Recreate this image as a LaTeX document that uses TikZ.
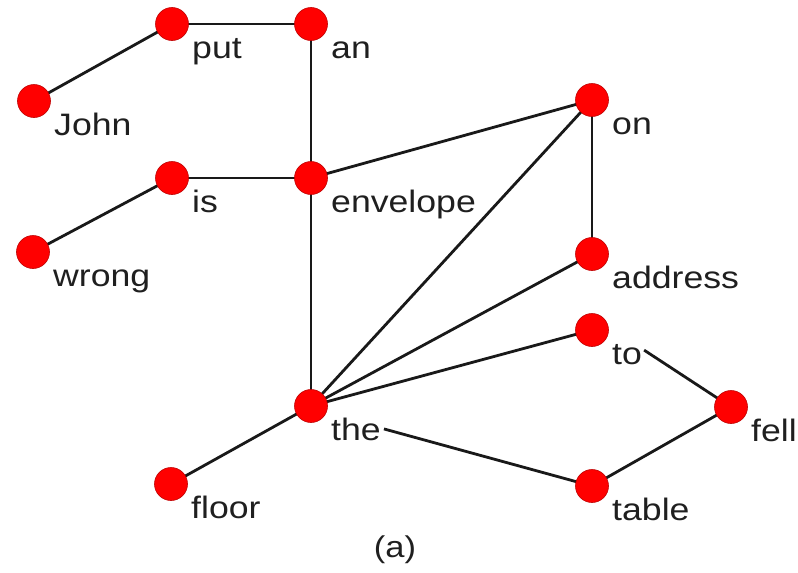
\documentclass[tikz,border=0pt]{standalone}
\usepackage{fontspec}
\setmainfont{Liberation Sans}
\newcommand{\lbl}[1]{\scalebox{1.15}[1]{#1}}
\tikzset{
  vertex/.style={circle, fill=red, draw=red!75!black, line width=0.6pt, minimum size=33pt, inner sep=0pt},
  lab/.style={anchor=base west, inner sep=0pt, text=black!88, font=\fontsize{31}{31}\selectfont},
  edge/.style={line width=2.8pt, draw=black!90},
}
\begin{document}
\begin{tikzpicture}[x=1pt,y=-1pt]
\useasboundingbox (0,0) rectangle (798,573);
% vertex coordinates
\coordinate (cJohn) at (34,101);
\coordinate (cput) at (172,24);
\coordinate (can) at (311,24);
\coordinate (cis) at (172,178);
\coordinate (cenvelope) at (311,178);
\coordinate (cwrong) at (33,252);
\coordinate (con) at (592,100);
\coordinate (caddress) at (592,254);
\coordinate (cto) at (592,330);
\coordinate (cfell) at (731,407);
\coordinate (cthe) at (311,406);
\coordinate (cfloor) at (171,484);
\coordinate (ctable) at (592,486);
% labels
\foreach \n in {John,put,an,is,envelope,wrong,on,address,to,fell,the,floor,table}{
  \node[lab] (l\n) at ([shift={(20,34)}]c\n) {\lbl{\n}};
}
% edges
\draw[edge] (cJohn) -- (cput);
\draw[edge] (cput) -- (can);
\draw[edge] (can) -- (cenvelope);
\draw[edge] (cwrong) -- (cis);
\draw[edge] (cis) -- (cenvelope);
\draw[edge] (cenvelope) -- (con);
\draw[edge] (cenvelope) -- (cthe);
\draw[edge] (con) -- (caddress);
\draw[edge] (con) -- (cthe);
\draw[edge] (caddress) -- (cthe);
\draw[edge] (cto) -- (cthe);
\draw[edge] (cthe) -- (cfloor);
\draw[edge] ([xshift=3pt]lthe.east) -- (ctable);
\draw[edge] ([xshift=2pt,yshift=4pt]lto.east) -- (cfell);
\draw[edge] (cfell) -- (ctable);
% vertices
\foreach \n in {John,put,an,is,envelope,wrong,on,address,to,fell,the,floor,table}{
  \node[vertex] (\n) at (c\n) {};
}
\node[inner sep=0pt, text=black!88, font=\fontsize{30}{30}\selectfont] (cap) at (395,550) {\lbl{(a)}};
\end{tikzpicture}
\end{document}
